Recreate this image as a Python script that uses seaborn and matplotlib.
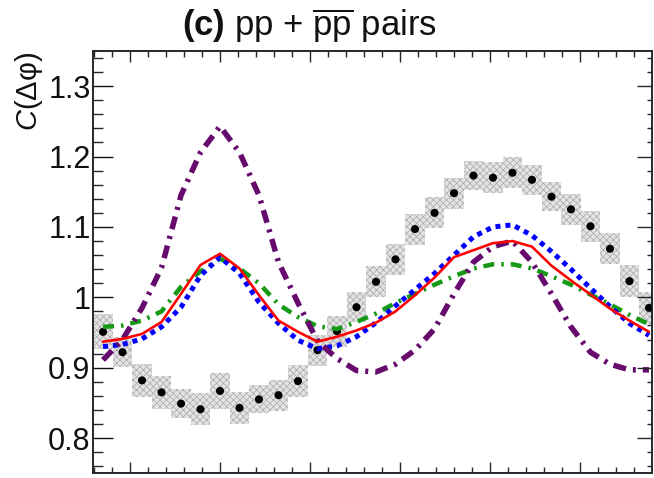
import numpy as np
import pandas as pd
import matplotlib
matplotlib.use("Agg")
import matplotlib.pyplot as plt
from matplotlib.ticker import MultipleLocator, FormatStrFormatter
import seaborn as sns

# Δφ binning: 29 bins over 2π, bin centred on zero
BIN = 2 * np.pi / 29
bin_index = np.arange(-6, 23)
dphi = bin_index * BIN

# measured correlation function and its systematic uncertainty
data_c = [0.951, 0.922, 0.882, 0.865, 0.849, 0.841, 0.867, 0.843, 0.855, 0.861,
          0.881, 0.925, 0.952, 0.986, 1.022, 1.054, 1.097, 1.120, 1.148, 1.173,
          1.170, 1.177, 1.167, 1.143, 1.125, 1.101, 1.069, 1.023, 0.985]
data_syst = [0.025, 0.021, 0.024, 0.023, 0.021, 0.023, 0.025, 0.023, 0.020, 0.022,
             0.023, 0.022, 0.022, 0.021, 0.022, 0.022, 0.022, 0.022, 0.022, 0.021,
             0.022, 0.022, 0.021, 0.021, 0.022, 0.022, 0.022, 0.023, 0.023]

# model curves
model_red = [0.937, 0.941, 0.948, 0.965, 1.005, 1.046, 1.062, 1.041, 1.003, 0.967,
             0.951, 0.937, 0.944, 0.953, 0.964, 0.980, 1.003, 1.028, 1.057, 1.067,
             1.077, 1.080, 1.072, 1.045, 1.024, 1.004, 0.984, 0.967, 0.951]
model_blue = [0.930, 0.933, 0.941, 0.958, 0.986, 1.031, 1.057, 1.034, 0.993, 0.963,
              0.939, 0.927, 0.931, 0.944, 0.964, 0.988, 1.011, 1.034, 1.060, 1.086,
              1.100, 1.103, 1.088, 1.065, 1.040, 1.013, 0.987, 0.963, 0.946]
model_green = [0.958, 0.960, 0.967, 0.980, 1.015, 1.037, 1.055, 1.041, 1.020, 0.990,
               0.972, 0.959, 0.955, 0.965, 0.977, 0.992, 1.005, 1.018, 1.030, 1.041,
               1.047, 1.047, 1.041, 1.030, 1.018, 1.004, 0.990, 0.975, 0.962]
model_purple = [0.911, 0.940, 0.985, 1.042, 1.145, 1.206, 1.243, 1.206, 1.145, 1.050,
                0.992, 0.938, 0.913, 0.896, 0.894, 0.905, 0.925, 0.955, 1.005, 1.050,
                1.072, 1.080, 1.050, 1.005, 0.958, 0.922, 0.905, 0.897, 0.897]

y_ticks = [0.8, 0.9, 1.0, 1.1, 1.2, 1.3]

sns.set_theme(style="ticks")
plt.rcParams.update({
    "font.family": ["Liberation Sans", "DejaVu Sans"],
    "mathtext.fontset": "custom",
    "mathtext.rm": "Liberation Sans",
    "mathtext.it": "Liberation Sans:italic",
    "mathtext.bf": "Liberation Sans:bold",
    "axes.linewidth": 1.1,
    "axes.edgecolor": "#222222",
    "lines.scale_dashes": False,
    "hatch.linewidth": 0.5,
})

fig = plt.figure(figsize=(6.54, 4.78), dpi=100)
ax = fig.add_axes([93.3 / 654, (478 - 473.3) / 478, 558.4 / 654, 422.3 / 478])
ax.set_facecolor("white")

df = pd.DataFrame({"dphi": dphi, "c": data_c, "syst": data_syst})

# systematic boxes
ax.bar(df["dphi"], 2 * df["syst"], bottom=df["c"] - df["syst"], width=BIN,
       color="#e3e3e3", edgecolor="#aaaaaa", hatch="xxxxx", linewidth=0, zorder=1)

# data points
sns.scatterplot(data=df, x="dphi", y="c", color="black", s=34, edgecolor="none",
                ax=ax, zorder=3, legend=False)

px = 0.72  # points per pixel at 100 dpi
curves = [
    (model_green, "#169a16", 4.5 * px, (0, (11 * px, 7 * px, 2.5 * px, 7 * px))),
    (model_blue, "#0000ff", 5.0 * px, (0, (5 * px, 5 * px))),
    (model_purple, "#660a6e", 5.5 * px, (0, (13 * px, 7 * px, 3 * px, 7 * px))),
    (model_red, "#ff0000", 2.6 * px, "-"),
]
for vals, col, lw, ls in curves:
    sns.lineplot(x=dphi, y=vals, color=col, linewidth=lw, linestyle=ls,
                 ax=ax, zorder=4, errorbar=None)

ax.set_xlim(-1.408, 4.797)
ax.set_ylim(0.75, 1.35)
ax.set_xlabel("")
ax.set_ylabel("")

ax.xaxis.set_major_locator(MultipleLocator(1))
ax.xaxis.set_minor_locator(MultipleLocator(0.2))
ax.set_yticks(y_ticks)
ax.yaxis.set_minor_locator(MultipleLocator(0.02))
ax.yaxis.set_major_formatter(FormatStrFormatter("%g"))

ax.tick_params(axis="x", which="major", direction="in", top=True, bottom=True,
               length=11 * px, width=1.0, labelbottom=False)
ax.tick_params(axis="x", which="minor", direction="in", top=True, bottom=True,
               length=6 * px, width=1.0)
ax.tick_params(axis="y", which="major", direction="in", left=True, right=False,
               length=20 * px, width=1.0, labelsize=22, pad=2, colors="#111111")
ax.tick_params(axis="y", which="minor", direction="in", left=True, right=False,
               length=10 * px, width=1.0)

# right-hand ticks are shorter
ax_r = ax.twinx()
ax_r.set_ylim(ax.get_ylim())
ax_r.set_yticks(y_ticks)
ax_r.yaxis.set_minor_locator(MultipleLocator(0.02))
ax_r.tick_params(axis="y", which="major", direction="in", right=True, length=15 * px,
                 width=1.0, labelright=False)
ax_r.tick_params(axis="y", which="minor", direction="in", right=True, length=5 * px,
                 width=1.0)
ax_r.grid(False)
ax.grid(False)

fig.text(182 / 654, 1 - 36 / 478, r"$\mathbf{(c)}$ pp + $\overline{\mathrm{pp}}$ pairs",
         fontsize=25, ha="left", va="baseline", color="#111111")
fig.text(29 / 654, 1 - 52 / 478, r"$C$(Δφ)", fontsize=21, rotation=90,
         ha="center", va="top", color="#111111")

fig.savefig("out.png", dpi=100, facecolor="white")
